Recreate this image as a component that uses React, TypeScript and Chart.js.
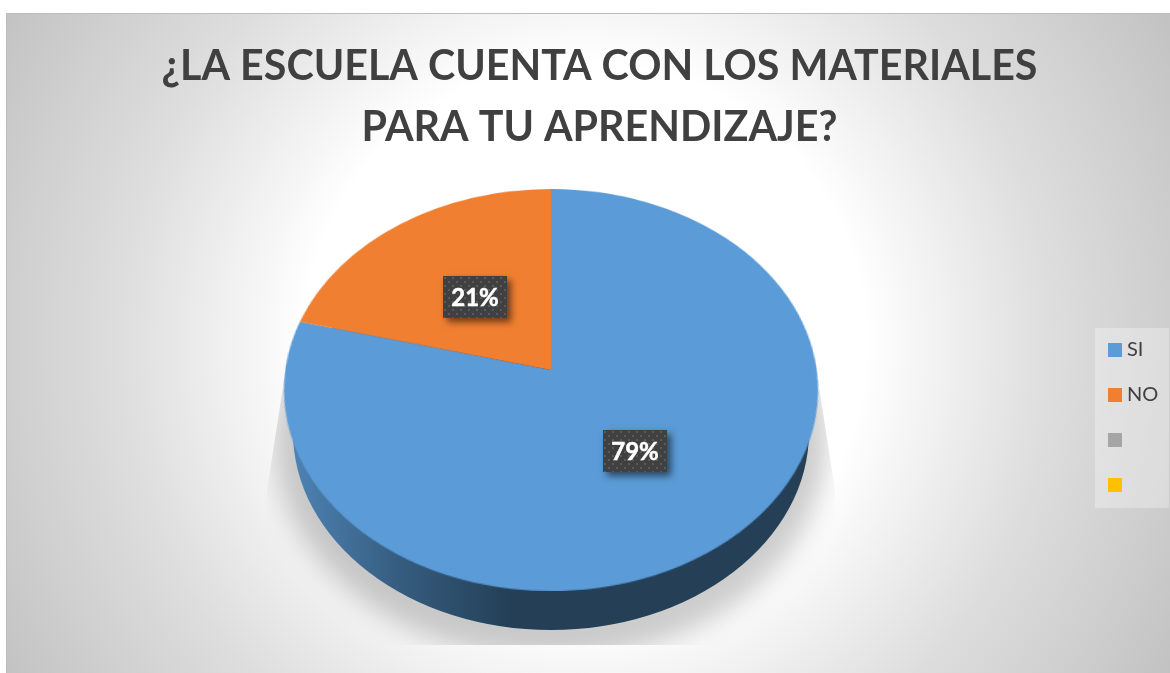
import React, { useEffect, useRef } from "react";
import { Chart, registerables } from "chart.js";

Chart.register(...registerables);

const categories = ["SI", "NO", "", ""];
const shares = [79, 21, 0, 0];
const sliceColors = ["#5B9BD7", "#F07F31", "#A5A5A5", "#FFC000"];
const titleLines = ["¿LA ESCUELA CUENTA CON LOS MATERIALES", "PARA TU APRENDIZAJE?"];

// Perspective of the tilted pie on the page
const APEX = { x: 551, y: 370 };
const TILT = { a: 199, c: -0.0995, s: 265.7 };
const SIDE = { dy: 62, rx: 258, ry: 198 };

const project = (u: number, v: number) => {
  const w = 1 + TILT.c * v;
  return { x: APEX.x + (u * TILT.s) / w, y: APEX.y + (TILT.a * v) / w };
};

const dotPattern = (ctx: CanvasRenderingContext2D) => {
  const tile = document.createElement("canvas");
  tile.width = 8;
  tile.height = 8;
  const t = tile.getContext("2d")!;
  t.fillStyle = "#404040";
  t.fillRect(0, 0, 8, 8);
  t.fillStyle = "#5a5a5a";
  t.fillRect(1, 1, 2, 2);
  t.fillRect(5, 5, 2, 2);
  return ctx.createPattern(tile, "repeat")!;
};

const pie3d = {
  id: "pie3d",
  beforeDraw(chart: any) {
    const { ctx } = chart;
    ctx.save();
    ctx.fillStyle = "#ffffff";
    ctx.fillRect(0, 0, chart.width, chart.height);
    const g = ctx.createRadialGradient(585, 343, 0, 585, 343, 670);
    g.addColorStop(0, "#ffffff");
    g.addColorStop(0.418, "#ffffff");
    g.addColorStop(0.49, "#f6f6f6");
    g.addColorStop(0.7, "#dddddd");
    g.addColorStop(0.895, "#cccccc");
    g.addColorStop(1, "#c2c2c2");
    ctx.fillStyle = g;
    ctx.fillRect(6, 14, 1164, 659);
    ctx.fillStyle = "#bdbdbd";
    ctx.fillRect(6, 13, 1164, 1);
    ctx.fillRect(6, 13, 1, 660);
    ctx.restore();
  },
  beforeDatasetDraw(chart: any) {
    const { ctx } = chart;
    const arcs = chart.getDatasetMeta(0).data;
    const R = arcs[0].outerRadius;
    const cy = APEX.y + 20;

    // floor shadow
    ctx.save();
    ctx.beginPath();
    ctx.moveTo(APEX.x - 267, 380);
    ctx.lineTo(APEX.x - 284, 490);
    ctx.lineTo(APEX.x - 284, 645);
    ctx.lineTo(APEX.x + 284, 645);
    ctx.lineTo(APEX.x + 284, 490);
    ctx.lineTo(APEX.x + 267, 380);
    ctx.closePath();
    ctx.clip();
    ctx.filter = "blur(13px)";
    ctx.fillStyle = "rgba(0,0,0,0.2)";
    ctx.beginPath();
    ctx.ellipse(APEX.x, cy + 50, 276, 218, 0, 0, Math.PI * 2);
    ctx.fill();
    ctx.restore();

    // wall of the pie
    ctx.save();
    const wall = ctx.createLinearGradient(APEX.x - 267, 0, APEX.x - 40, 0);
    wall.addColorStop(0, "#4f86b8");
    wall.addColorStop(0.5, "#365d80");
    wall.addColorStop(1, "#243f56");
    ctx.fillStyle = wall;
    ctx.beginPath();
    ctx.ellipse(APEX.x, cy + SIDE.dy - 20, SIDE.rx, SIDE.ry, 0, 0, Math.PI * 2);
    ctx.fill();
    ctx.restore();

    // top face: library arcs rendered flat, then tilted row by row
    const size = Math.ceil(R * 2 + 8);
    const off = document.createElement("canvas");
    off.width = size;
    off.height = size;
    const o = off.getContext("2d")!;
    o.translate(size / 2 - arcs[0].x, size / 2 - arcs[0].y);
    arcs.forEach((a: any) => a.draw(o));
    const top = Math.floor(project(0, -1).y);
    const bottom = Math.ceil(project(0, 1).y);
    ctx.save();
    ctx.imageSmoothingEnabled = true;
    for (let y = top; y < bottom; y++) {
      const toV = (Y: number) => (Y - APEX.y) / (TILT.a - TILT.c * (Y - APEX.y));
      const v0 = toV(y);
      const v1 = toV(y + 1);
      const vm = (v0 + v1) / 2;
      const w = ((size / R) * TILT.s) / (1 + TILT.c * vm);
      ctx.drawImage(off, 0, size / 2 + v0 * R, size, (v1 - v0) * R, APEX.x - w / 2, y, w, 1);
    }
    ctx.restore();
    return false;
  },
  afterDatasetsDraw(chart: any) {
    const { ctx } = chart;
    const arcs = chart.getDatasetMeta(0).data;
    const R = arcs[0].outerRadius;
    const pattern = dotPattern(ctx);
    arcs.forEach((a: any, i: number) => {
      if (!shares[i]) return;
      const mid = a.tooltipPosition();
      const p = project(((mid.x - a.x) / R) * 0.98, ((mid.y - a.y) / R) * 0.98);
      const bw = 64;
      const bh = 42;
      const bx = Math.round(p.x - bw / 2) + 1;
      const by = Math.round(p.y - bh / 2) + 1;
      ctx.save();
      ctx.shadowColor = "rgba(0,0,0,0.55)";
      ctx.shadowBlur = 7;
      ctx.shadowOffsetX = 4;
      ctx.shadowOffsetY = 4;
      ctx.fillStyle = "#404040";
      ctx.fillRect(bx, by, bw, bh);
      ctx.restore();
      ctx.save();
      ctx.translate(bx, by);
      ctx.fillStyle = pattern;
      ctx.fillRect(0, 0, bw, bh);
      ctx.restore();
      ctx.save();
      ctx.fillStyle = "#ffffff";
      ctx.strokeStyle = "#ffffff";
      ctx.lineWidth = 0.5;
      ctx.font = "bold 24px Lato";
      ctx.textAlign = "center";
      ctx.textBaseline = "middle";
      ctx.fillText(`${shares[i]}%`, bx + bw / 2, by + bh / 2 + 1);
      ctx.strokeText(`${shares[i]}%`, bx + bw / 2, by + bh / 2 + 1);
      ctx.restore();
    });

    // legend panel, entries from the library's label generator
    const items = chart.options.plugins.legend.labels.generateLabels(chart);
    ctx.save();
    ctx.fillStyle = "rgba(255,255,255,0.3)";
    ctx.fillRect(1095, 328, 74, 180);
    ctx.font = "20px Lato";
    ctx.textBaseline = "middle";
    items.forEach((it: any, i: number) => {
      const yc = 350 + i * 45;
      ctx.fillStyle = it.fillStyle;
      ctx.fillRect(1108, yc - 7, 14, 14);
      ctx.fillStyle = "#404040";
      ctx.fillText(it.text, 1127, yc);
    });
    ctx.restore();
  },
};

export default function App() {
  const ref = useRef<HTMLCanvasElement>(null);
  useEffect(() => {
    const chart = new Chart(ref.current!, {
      type: "pie",
      data: {
        labels: categories,
        datasets: [{ data: shares, backgroundColor: sliceColors, borderWidth: 0, radius: 200 }],
      },
      options: {
        animation: false,
        responsive: false,
        layout: { padding: { left: 29 } },
        plugins: {
          legend: { display: false },
          tooltip: { enabled: false },
          title: {
            display: true,
            text: titleLines,
            color: "#404040",
            font: { family: "Lato", size: 41.2, weight: "bold", lineHeight: 1.46 },
            padding: { top: 37, bottom: 10 },
          },
        },
      },
      plugins: [pie3d],
    } as any);
    return () => chart.destroy();
  }, []);
  return (
    <canvas
      ref={ref}
      width={1170}
      height={673}
      style={{ position: "absolute", left: 0, top: 0, display: "block" }}
    />
  );
}
